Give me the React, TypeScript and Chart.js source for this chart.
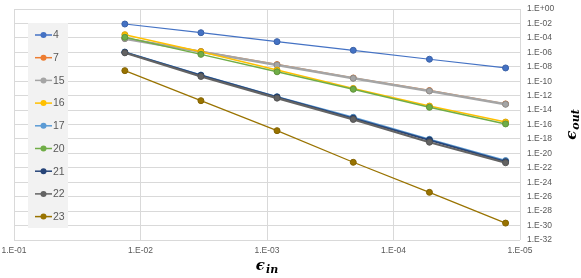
import React, { useEffect, useRef } from "react";
import { Chart, registerables } from "chart.js";

Chart.register(...registerables);

const seriesNames = ["4", "7", "15", "16", "17", "20", "21", "22", "23"];
const colors = ["#4472C4", "#ED7D31", "#A5A5A5", "#FFC000", "#5B9BD5", "#70AD47", "#264478", "#636363", "#997300"];
const lineWidths = [1.2, 1.5, 2.6, 1.5, 1.5, 1.5, 1.8, 2.2, 1.2];

const epsIn = [1.33e-2, 3.33e-3, 8.33e-4, 2.08e-4, 5.2e-5, 1.3e-5];

const s4 = [8.3e-3, 5.2e-4, 3.0e-5, 1.9e-6, 1.1e-7, 6.8e-9];
const s7 = [8.9e-5, 1.3e-6, 2.0e-8, 2.8e-10, 5.0e-12, 7.1e-14];
const s15 = [7.8e-5, 1.2e-6, 1.7e-8, 2.5e-10, 4.4e-12, 6.3e-14];
const s16 = [2.8e-4, 1.2e-6, 3.5e-9, 1.0e-11, 3.6e-14, 2.2e-16];
const s17 = [1.1e-6, 7.1e-10, 7.1e-13, 1.0e-15, 8.9e-19, 1.0e-21];
const s20 = [1.2e-4, 5.2e-7, 2.0e-9, 7.6e-12, 2.4e-14, 1.2e-16];
const s21 = [1.0e-6, 6.3e-10, 6.3e-13, 7.1e-16, 7.1e-19, 7.1e-22];
const s22 = [8.5e-7, 4.5e-10, 4.5e-13, 5.0e-16, 3.5e-19, 5.0e-22];
const s23 = [2.9e-9, 2.0e-13, 1.4e-17, 5.8e-22, 4.0e-26, 2.2e-30];

const allSeries = [s4, s7, s15, s16, s17, s20, s21, s22, s23];

const xTicks = [1e-1, 1e-2, 1e-3, 1e-4, 1e-5];
const yTicks = [1e0, 1e-2, 1e-4, 1e-6, 1e-8, 1e-10, 1e-12, 1e-14, 1e-16, 1e-18, 1e-20, 1e-22, 1e-24, 1e-26, 1e-28, 1e-30, 1e-32];

function fmt(v: number): string {
  const e = Math.round(Math.log10(v));
  const sign = e < 0 ? "-" : "+";
  const a = Math.abs(e);
  return "1.E" + sign + (a < 10 ? "0" + a : String(a));
}

function darken(hex: string, f: number): string {
  const n = parseInt(hex.slice(1), 16);
  const r = Math.round(((n >> 16) & 255) * f);
  const g = Math.round(((n >> 8) & 255) * f);
  const b = Math.round((n & 255) * f);
  return `rgb(${r},${g},${b})`;
}

const legendPlugin = {
  id: "insideLegend",
  afterDraw(chart: any) {
    const ctx = chart.ctx;
    const area = chart.chartArea;
    ctx.save();
    const bx = area.left + 14;
    const by = area.top + 14;
    const bw = 40;
    const bh = 205;
    ctx.fillStyle = "#f2f2f2";
    ctx.fillRect(bx, by, bw, bh);
    const step = 22.7;
    seriesNames.forEach((name, i) => {
      const y = by + 12 + i * step;
      ctx.strokeStyle = colors[i];
      ctx.lineWidth = 1.5;
      ctx.beginPath();
      ctx.moveTo(bx + 7, y);
      ctx.lineTo(bx + 24, y);
      ctx.stroke();
      ctx.fillStyle = colors[i];
      ctx.beginPath();
      ctx.arc(bx + 15.5, y, 3, 0, Math.PI * 2);
      ctx.fill();
      ctx.fillStyle = "#595959";
      ctx.font = '10.5px "Liberation Sans", Arial, sans-serif';
      ctx.textAlign = "left";
      ctx.textBaseline = "middle";
      ctx.fillText(name, bx + 25, y + 0.5);
    });

    const drawEps = (sub: string) => {
      ctx.font = 'bold italic 15px "DejaVu Serif", serif';
      ctx.fillStyle = "#000";
      ctx.textBaseline = "alphabetic";
      ctx.textAlign = "left";
      const w1 = ctx.measureText("\u03F5").width;
      ctx.font = 'bold italic 11px "DejaVu Serif", serif';
      const w2 = ctx.measureText(sub).width;
      const total = w1 + w2 + 1;
      ctx.font = 'bold italic 15px "DejaVu Serif", serif';
      ctx.fillText("\u03F5", -total / 2, 4);
      ctx.font = 'bold italic 11px "DejaVu Serif", serif';
      ctx.fillText(sub, -total / 2 + w1 + 1, 7);
    };
    ctx.save();
    ctx.translate((area.left + area.right) / 2, area.bottom + 26);
    drawEps("in");
    ctx.restore();
    ctx.save();
    ctx.translate(area.right + 52, (area.top + area.bottom) / 2);
    ctx.rotate(-Math.PI / 2);
    drawEps("out");
    ctx.restore();
    ctx.restore();
  },
};

export default function App() {
  const ref = useRef<HTMLCanvasElement | null>(null);
  useEffect(() => {
    if (!ref.current) return;
    const datasets = allSeries.map((vals, i) => ({
      label: seriesNames[i],
      data: vals.map((v, j) => ({ x: epsIn[j], y: v })),
      borderColor: colors[i],
      backgroundColor: colors[i],
      borderWidth: lineWidths[i],
      pointRadius: 3,
      pointBorderWidth: 1,
      pointBorderColor: darken(colors[i], 0.85),
      pointBackgroundColor: colors[i],
      showLine: true,
      fill: false,
      tension: 0,
      order: -i,
    }));
    const chart = new Chart(ref.current, {
      type: "scatter",
      data: { datasets },
      plugins: [legendPlugin],
      options: {
        animation: false,
        responsive: true,
        maintainAspectRatio: false,
        layout: { padding: { left: 14, top: 9, right: 0, bottom: 0 } },
        plugins: { legend: { display: false }, tooltip: { enabled: false } },
        scales: {
          x: {
            type: "logarithmic",
            reverse: true,
            min: 1e-5,
            max: 1e-1,
            position: "bottom",
            afterBuildTicks: (s: any) => {
              s.ticks = xTicks.map((v) => ({ value: v }));
            },
            afterFit: (s: any) => {
              s.height = 38;
              s.paddingLeft = 0;
              s.paddingRight = 0;
              s.paddingTop = 0;
              s.paddingBottom = 0;
            },
            ticks: {
              autoSkip: false,
              maxRotation: 0,
              padding: 6,
              color: "#595959",
              font: { family: '"Liberation Sans Narrow", "Liberation Sans", Arial', size: 8.5 },
              callback: (v: any) => fmt(Number(v)),
            },
            grid: { color: "#d9d9d9", lineWidth: 1, drawTicks: false },
            border: { display: false },
          },
          y: {
            type: "logarithmic",
            position: "right",
            min: 1e-32,
            max: 1,
            afterBuildTicks: (s: any) => {
              s.ticks = yTicks.map((v) => ({ value: v }));
            },
            afterFit: (s: any) => {
              s.width = 61;
              s.paddingLeft = 0;
              s.paddingRight = 0;
              s.paddingTop = 0;
              s.paddingBottom = 0;
            },
            ticks: {
              autoSkip: false,
              padding: 7,
              color: "#595959",
              font: { family: '"Liberation Sans Narrow", "Liberation Sans", Arial', size: 8.5 },
              callback: (v: any) => fmt(Number(v)),
            },
            grid: { color: "#d9d9d9", lineWidth: 1, drawTicks: false },
            border: { display: false },
          },
        },
      },
    });
    return () => chart.destroy();
  }, []);
  return (
    <div style={{ position: "absolute", left: 0, top: 0, width: 581, height: 278, background: "#fff" }}>
      <canvas ref={ref} />
    </div>
  );
}
